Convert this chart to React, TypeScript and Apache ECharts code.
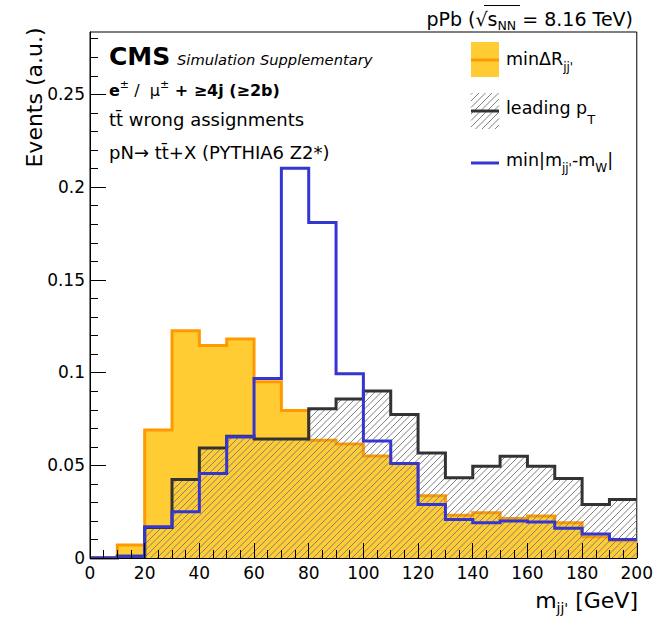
import React, { useEffect, useRef } from 'react';
import * as echarts from 'echarts';

// Histogram bins (GeV)
const binLow = [0, 10, 20, 30, 40, 50, 60, 70, 80, 90, 100, 110, 120, 130, 140, 150, 160, 170, 180, 190];
const binHigh = [10, 20, 30, 40, 50, 60, 70, 80, 90, 100, 110, 120, 130, 140, 150, 160, 170, 180, 190, 200];

// minΔR_jj'
const minDeltaR = [0, 0.007, 0.069, 0.1225, 0.1145, 0.118, 0.095, 0.0795, 0.0635, 0.0615, 0.0550, 0.0510, 0.0335, 0.0230, 0.0244, 0.0213, 0.0226, 0.0190, 0.0115, 0.0093];
// leading pT
const leadingPt = [0, 0.001, 0.0165, 0.0423, 0.0593, 0.0656, 0.0642, 0.0642, 0.0805, 0.0857, 0.0900, 0.0774, 0.0566, 0.0432, 0.0495, 0.0548, 0.0495, 0.0428, 0.0289, 0.0315];
// min|m_jj' - m_W|
const minMjjMw = [0, 0.001, 0.0168, 0.0249, 0.0455, 0.0652, 0.0968, 0.2100, 0.1808, 0.0993, 0.0630, 0.0509, 0.0289, 0.0208, 0.0190, 0.0200, 0.0194, 0.0160, 0.0129, 0.0100];

// y-axis tick positions
const yMajorTicks = [0, 0.05, 0.1, 0.15, 0.2, 0.25];
const yMinorTicks = [0.01, 0.02, 0.03, 0.04, 0.06, 0.07, 0.08, 0.09, 0.11, 0.12, 0.13, 0.14, 0.16, 0.17, 0.18, 0.19, 0.21, 0.22, 0.23, 0.24, 0.26, 0.27, 0.28];

const xMin = 0;
const xMax = 200;
const yMin = 0;
const yMax = 0.2835;

const FONT = 'DejaVu Sans';
const ORANGE_FILL = '#ffcc33';
const ORANGE_LINE = '#ff9900';
const DARK = '#333333';
const BLUE = '#3535d0';
const HATCH = '#808080';

function stepPoints(vals: number[]) {
  const pts = binLow.map((x, i) => [x, vals[i]]);
  pts.push([binHigh[binHigh.length - 1], vals[vals.length - 1]]);
  return pts;
}

function hatchLines(L: number, T: number, R: number, B: number, step: number) {
  const out: any[] = [];
  const cStart = Math.ceil((L + T) / step) * step;
  for (let c = cStart; c <= R + B; c += step) {
    const xs = Math.max(L, c - B);
    const xe = Math.min(R, c - T);
    if (xe > xs) {
      out.push({
        type: 'line',
        shape: { x1: xs, y1: c - xs, x2: xe, y2: c - xe },
        style: { stroke: HATCH, lineWidth: 1 },
        silent: true,
      });
    }
  }
  return out;
}

function yTickSeries(name: string, ticks: number[], len: number) {
  return {
    name, type: 'custom', silent: true, z: 20,
    data: ticks.map((v) => [(xMin + xMax) / 2, v]),
    encode: { x: 0, y: 1 },
    renderItem: (params: any, api: any) => {
      const p = api.coord([xMin, api.value(1)]);
      const y = Math.round(p[1]);
      return {
        type: 'rect',
        shape: { x: p[0], y: y, width: len, height: 1 },
        style: { fill: '#000' },
      };
    },
  };
}

export default function App() {
  const ref = useRef<HTMLDivElement>(null);
  useEffect(() => {
    if (!ref.current) return;
    const chart = echarts.init(ref.current, undefined, { renderer: 'svg' });
    const hatchData = binLow.map((x, i) => [x, binHigh[i], leadingPt[i]]);

    const graphics: any[] = [
      // top-left labels
      { type: 'text', x: 109, y: 56.5, style: { text: 'CMS', font: `bold 25px "${FONT}"`, fill: '#000', align: 'left', verticalAlign: 'middle' } },
      { type: 'text', x: 177, y: 59.6, style: { text: 'Simulation Supplementary', font: `italic 14.7px "${FONT}"`, fill: '#000', align: 'left', verticalAlign: 'middle' } },
      {
        type: 'text', x: 109, y: 90.2,
        style: {
          text: '{b|e}{sup|±}{n| /  μ}{sup|±}{b| + ≥4j (≥2b)}',
          align: 'left', verticalAlign: 'middle', fill: '#000',
          rich: {
            b: { fontFamily: FONT, fontWeight: 'bold', fontSize: 16, lineHeight: 22, verticalAlign: 'middle' },
            n: { fontFamily: FONT, fontSize: 16, lineHeight: 22, verticalAlign: 'middle' },
            sup: { fontFamily: FONT, fontSize: 11, lineHeight: 12, verticalAlign: 'top' },
          },
        },
      },
      { type: 'text', x: 109, y: 119.6, style: { text: 'tt\u0304 wrong assignments', font: `18px "${FONT}"`, fill: '#000', align: 'left', verticalAlign: 'middle' } },
      { type: 'text', x: 109, y: 152.6, style: { text: 'pN\u2192 tt\u0304+X (PYTHIA6 Z2*)', font: `18px "${FONT}"`, fill: '#000', align: 'left', verticalAlign: 'middle' } },
      // top-right energy label
      {
        type: 'text', x: 633, y: 19.3,
        style: {
          text: '{m|pPb (\u221A}{m|s}{s|NN}{m| = 8.16 TeV)}',
          align: 'right', verticalAlign: 'middle', fill: '#000',
          rich: {
            m: { fontFamily: FONT, fontSize: 19, lineHeight: 26, verticalAlign: 'middle' },
            s: { fontFamily: FONT, fontSize: 12.5, lineHeight: 10.4, verticalAlign: 'bottom' },
          },
        },
      },
      { type: 'line', shape: { x1: 484, y1: 5.5, x2: 520, y2: 5.5 }, style: { stroke: '#000', lineWidth: 1 } },
      // legend: minDeltaR
      { type: 'rect', shape: { x: 471, y: 42, width: 28, height: 35 }, style: { fill: ORANGE_FILL } },
      { type: 'line', shape: { x1: 471, y1: 60, x2: 499, y2: 60 }, style: { stroke: ORANGE_LINE, lineWidth: 3 } },
      {
        type: 'text', x: 506, y: 58.75,
        style: {
          text: "{m|min\u0394R}{s|jj'}", align: 'left', verticalAlign: 'middle', fill: '#000',
          rich: {
            m: { fontFamily: FONT, fontSize: 17.5, lineHeight: 28, verticalAlign: 'middle' },
            s: { fontFamily: FONT, fontSize: 12, lineHeight: 10, verticalAlign: 'bottom' },
          },
        },
      },
      // legend: leading pT
      { type: 'group', children: hatchLines(471, 93, 499, 129, 6.5) },
      { type: 'line', shape: { x1: 471, y1: 111, x2: 499, y2: 111 }, style: { stroke: DARK, lineWidth: 3 } },
      {
        type: 'text', x: 506, y: 107.75,
        style: {
          text: '{m|leading p}{s|T}', align: 'left', verticalAlign: 'middle', fill: '#000',
          rich: {
            m: { fontFamily: FONT, fontSize: 17.5, lineHeight: 36, verticalAlign: 'middle' },
            s: { fontFamily: FONT, fontSize: 13, lineHeight: 9.3, verticalAlign: 'bottom' },
          },
        },
      },
      // legend: min|mjj'-mW|
      { type: 'line', shape: { x1: 471, y1: 163, x2: 499, y2: 163 }, style: { stroke: BLUE, lineWidth: 3 } },
      {
        type: 'text', x: 506, y: 159.75,
        style: {
          text: "{m|min|m}{s|jj'}{m|-m}{s|W}{m||}", align: 'left', verticalAlign: 'middle', fill: '#000',
          rich: {
            m: { fontFamily: FONT, fontSize: 17.5, lineHeight: 28, verticalAlign: 'middle' },
            s: { fontFamily: FONT, fontSize: 12, lineHeight: 10, verticalAlign: 'bottom' },
          },
        },
      },
      // axis titles
      {
        type: 'text', x: 34.5, y: 97.5, rotation: Math.PI / 2,
        style: { text: 'Events (a.u.)', font: `22px "${FONT}"`, fill: '#000', align: 'center', verticalAlign: 'middle' },
      },
      {
        type: 'text', x: 638, y: 600.4,
        style: {
          text: "{m|m}{s|jj'}{m| [GeV]}", align: 'right', verticalAlign: 'middle', fill: '#000',
          rich: {
            m: { fontFamily: FONT, fontSize: 22, lineHeight: 30, verticalAlign: 'middle' },
            s: { fontFamily: FONT, fontSize: 14, lineHeight: 11.2, verticalAlign: 'bottom' },
          },
        },
      },
    ];

    const option: any = {
      animation: false,
      backgroundColor: '#ffffff',
      grid: {
        left: 90, right: 17, top: 32, bottom: 59,
        show: true, borderColor: '#000', borderWidth: 1,
      },
      xAxis: {
        type: 'value', min: xMin, max: xMax, interval: 20, z: 10,
        axisLine: { show: true, onZero: false, lineStyle: { color: '#000', width: 1 } },
        axisTick: { show: true, inside: false, length: -15, lineStyle: { color: '#000', width: 1 } },
        minorTick: { show: true, splitNumber: 4, length: -8, lineStyle: { color: '#000', width: 1 } },
        splitLine: { show: false },
        minorSplitLine: { show: false },
        axisLabel: { fontFamily: FONT, fontSize: 17, color: '#000', margin: 6, showMaxLabel: true, showMinLabel: true },
      },
      yAxis: {
        type: 'value', min: yMin, max: yMax, interval: 0.05, z: 10,
        axisLine: { show: true, onZero: false, lineStyle: { color: '#000', width: 1 } },
        axisTick: { show: false },
        minorTick: { show: false },
        splitLine: { show: false },
        minorSplitLine: { show: false },
        axisLabel: {
          fontFamily: FONT, fontSize: 17, color: '#000', margin: 5,
          formatter: (v: number) => (v > 0.26 ? '' : String(parseFloat(v.toFixed(3)))),
        },
      },
      series: [
        {
          name: 'minDeltaR', type: 'line', step: 'end', data: stepPoints(minDeltaR), z: 2,
          symbol: 'none', silent: true,
          lineStyle: { color: ORANGE_LINE, width: 3, join: 'miter' },
          areaStyle: { color: ORANGE_FILL, opacity: 1 },
        },
        {
          name: 'leadingHatch', type: 'custom', data: hatchData, silent: true, z: 3,
          encode: { x: [0, 1], y: 2 },
          clip: true,
          renderItem: (params: any, api: any) => {
            const pBL = api.coord([api.value(0), 0]);
            const pTR = api.coord([api.value(1), api.value(2)]);
            return { type: 'group', children: hatchLines(pBL[0], pTR[1], pTR[0], pBL[1], 6.5) };
          },
        },
        {
          name: 'leadingPt', type: 'line', step: 'end', data: stepPoints(leadingPt), z: 4,
          symbol: 'none', silent: true,
          lineStyle: { color: DARK, width: 3, join: 'miter' },
        },
        {
          name: 'minMjjMw', type: 'line', step: 'end', data: stepPoints(minMjjMw), z: 5,
          symbol: 'none', silent: true,
          lineStyle: { color: BLUE, width: 3, join: 'miter' },
        },
        yTickSeries('yMajorTicks', yMajorTicks, 16),
        yTickSeries('yMinorTicks', yMinorTicks, 8),
      ],
      graphic: graphics,
    };
    chart.setOption(option);

    // y-axis ticks through the chart's own y scale (second route)
    const tickEls: any[] = [];
    const addTicks = (vals: number[], len: number) => {
      vals.forEach((v) => {
        const p = chart.convertToPixel({ seriesIndex: 0 } as any, [xMin, v]) as any;
        if (!p || !isFinite(p[0]) || !isFinite(p[1])) return;
        tickEls.push({
          type: 'rect', z: 100,
          shape: { x: p[0], y: Math.round(p[1]), width: len, height: 1 },
          style: { fill: '#000' },
        });
      });
    };
    addTicks(yMajorTicks, 16);
    addTicks(yMinorTicks, 8);
    if (tickEls.length) chart.setOption({ graphic: [...graphics, ...tickEls] });

    return () => chart.dispose();
  }, []);
  return <div ref={ref} style={{ position: 'absolute', left: 0, top: 0, width: 656, height: 617 }} />;
}
